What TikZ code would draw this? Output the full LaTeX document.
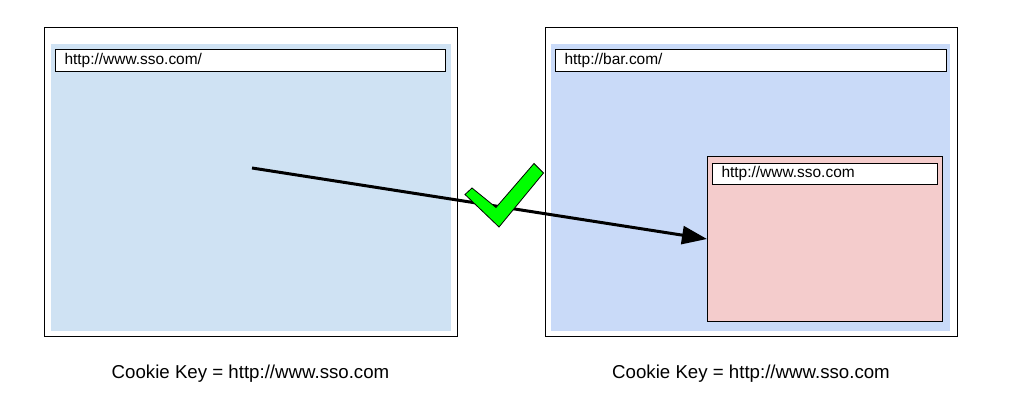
\documentclass[tikz,border=0pt]{standalone}
\usepackage{fontspec}
\setmainfont{Liberation Sans}
\usetikzlibrary{arrows.meta}
\definecolor{ssoblue}{HTML}{CFE2F3}
\definecolor{barblue}{HTML}{C9DAF8}
\definecolor{framepink}{HTML}{F4CCCC}
\definecolor{okgreen}{HTML}{00FF00}
\tikzset{
  urlbar/.style={draw, fill=white, line width=0.75pt, anchor=north west,
    minimum height=16.5pt, inner xsep=6.75pt, inner ysep=0pt, align=left,
    font=\fontsize{11.6}{13}\selectfont},
  keylabel/.style={font=\fontsize{14}{16}\selectfont}
}
\begin{document}
\begin{tikzpicture}[x=0.75pt, y=-0.75pt]
            \useasboundingbox (0, 0) rectangle (1024, 409);
            % left window: www.sso.com
            \draw[line width=0.75pt] (44, 28) rectangle (457, 337);
            \fill[ssoblue] (51, 44) rectangle (451, 331);
            \node[urlbar, text width=279pt] (ssobar) at (55, 49) {http://www.sso.com/};
            % right window: bar.com
            \draw[line width=0.75pt] (545, 28) rectangle (957, 337);
            \fill[barblue] (551, 44) rectangle (950, 331);
            \node[urlbar, text width=279.75pt] (barbar) at (555, 49) {http://bar.com/};
            % iframe inside bar.com
            \node[draw, fill=framepink, line width=0.75pt, anchor=north west,
                  minimum width=176.25pt, minimum height=123.75pt] (iframe) at (707, 156) {};
            \node[urlbar, minimum height=15.75pt, text width=155.25pt] (framebar) at (712, 163) {http://www.sso.com};
            % request arrow
            \coordinate (start) at (252, 168);
            \draw[line width=2.25pt, -{Triangle[length=18.75pt, width=13.5pt]}] (start) -- (iframe.west);
            % check mark
            \filldraw[fill=okgreen, draw=black, line width=0.6pt, line join=miter]
                (472, 188) -- (465, 194.5) -- (499, 227) -- (543.5, 173) -- (534, 163.5) -- (496, 207.5) -- cycle;
            % cookie keys
            \node[keylabel] (ssokey) at (250.5, 374) {Cookie Key = http://www.sso.com};
            \node[keylabel] (barkey) at (751, 374) {Cookie Key = http://www.sso.com};
        \end{tikzpicture}
\end{document}
